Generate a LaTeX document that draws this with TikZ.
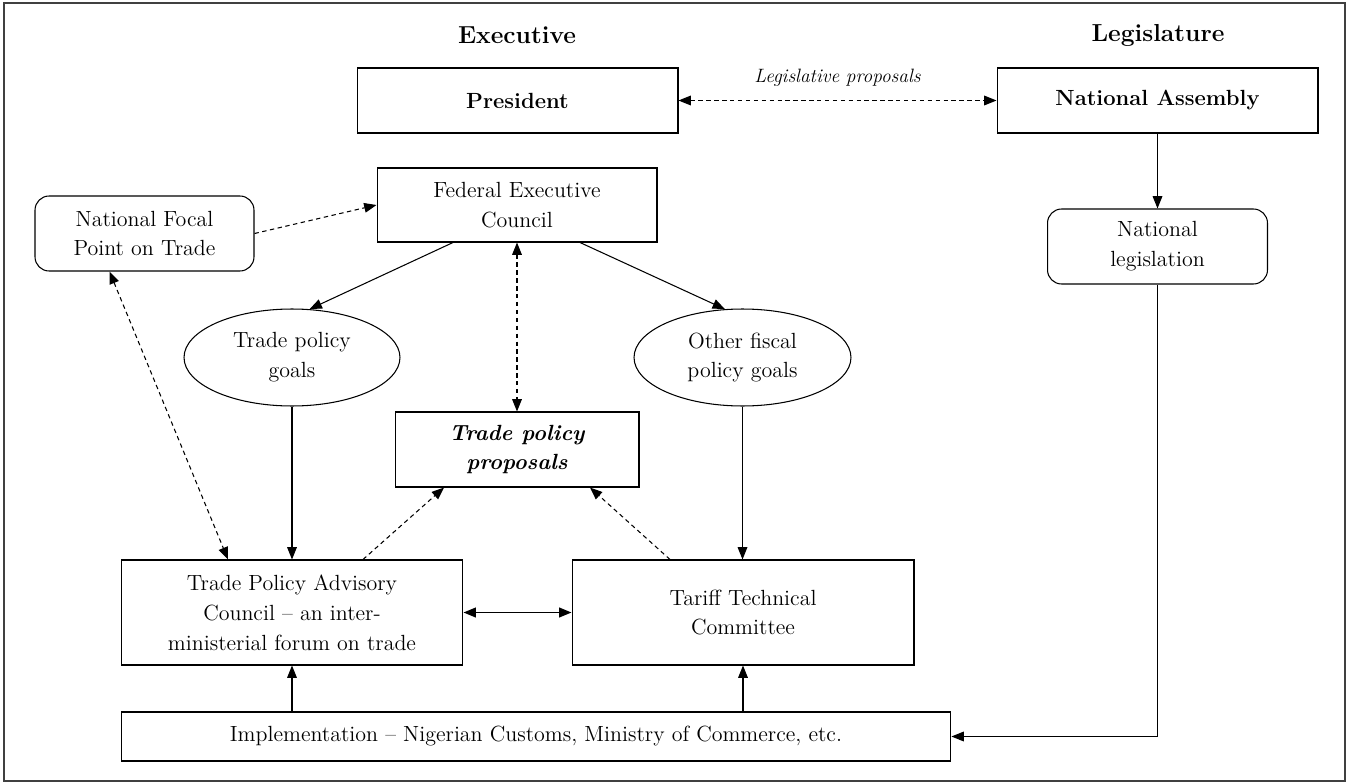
\documentclass[tikz,border=0pt]{standalone}
\usetikzlibrary{arrows.meta, positioning, calc, shapes.geometric}
\tikzset{
    blk/.style={draw, line width=0.6pt, align=center, inner sep=2pt,
        font=\fontsize{12.5}{17}\selectfont},
    rblk/.style={blk, rounded corners=8pt},
    goal/.style={blk, ellipse, inner sep=0pt},
    bld/.style={font=\fontsize{12.5}{17}\selectfont\bfseries},
    bldit/.style={font=\fontsize{12.5}{17}\selectfont\bfseries\itshape},
    hdr/.style={font=\fontsize{14}{17}\selectfont\bfseries},
    lbl/.style={font=\fontsize{11}{13}\selectfont\itshape},
    arr/.style={-{Triangle[length=7pt, width=5.5pt]}, line width=0.6pt},
    darr/.style={arr, dash pattern=on 2.5pt off 2pt},
    biarr/.style={{Triangle[length=7pt, width=5.5pt]}-{Triangle[length=7pt, width=5.5pt]},
        line width=0.6pt},
    dbiarr/.style={biarr, dash pattern=on 2.5pt off 2pt},
}

\begin{document}
\begin{tikzpicture}[x=0.02cm, y=-0.02cm]
    \useasboundingbox (0,0) rectangle (1349,784);
    \draw[line width=0.6pt, black!75] (4,3) rectangle (1345,781);

    % Titles
    \node[hdr] (exe) at (517,35) {Executive};
    \node[hdr] (leg) at (1158,35) {Legislature};

    % Top row
    \node[blk, bld, minimum width=6.42cm, minimum height=1.3cm] (pres) at (517.5,100.5) {President};
    \node[blk, bld, minimum width=6.42cm, minimum height=1.3cm] (na) at (1157.5,100.5) {National Assembly};
    \draw[dbiarr] (pres) -- node[lbl, above=4.5pt] {Legislative proposals} (na);

    % Executive side
    \node[blk, minimum width=5.6cm, minimum height=1.48cm] (fec) at (517,205) {Federal Executive\\Council};
    \node[rblk, minimum width=4.38cm, minimum height=1.5cm] (nfp) at (144.5,233.5) {National Focal\\Point on Trade};
    \node[goal, minimum width=4.32cm, minimum height=1.94cm] (tpg) at (292,357.5) {Trade policy\\goals};
    \node[goal, minimum width=4.34cm, minimum height=1.94cm] (ofg) at (742.5,357.5) {Other fiscal\\policy goals};
    \node[blk, bldit, minimum width=4.88cm, minimum height=1.5cm] (tpp) at (517,449.5) {Trade policy\\proposals};
    \node[blk, minimum width=6.84cm, minimum height=2.1cm] (tpac) at (292,612.5)
        {Trade Policy Advisory\\Council -- an inter-\\ministerial forum on trade};
    \node[blk, minimum width=6.84cm, minimum height=2.1cm] (ttc) at (743,612.5) {Tariff Technical\\Committee};
    \node[blk, minimum width=16.6cm, minimum height=0.98cm] (impl) at (536,736.5)
        {Implementation -- Nigerian Customs, Ministry of Commerce, etc.};

    % Legislature side
    \node[rblk, minimum width=4.4cm, minimum height=1.5cm] (nl) at (1157.5,246.5) {National\\legislation};

    \draw[arr] (na) -- (nl);
    \draw[arr] (nl) |- (impl);

    \draw[darr] (nfp.east) -- (fec.west);
    \draw[dbiarr] ($(nfp.south)+(-35,0)$) -- ($(tpac.north)+(-64,0)$);
    \draw[arr] ($(fec.south)+(-64,0)$) -- (tpg.70);
    \draw[arr] ($(fec.south)+(63,0)$) -- (ofg.110);
    \draw[dbiarr] (fec) -- (tpp);

    \draw[arr] (tpg) -- (tpac);
    \draw[arr] (ofg) -- (ttc.north -| ofg);
    \draw[darr] ($(tpac.north)+(71,0)$) -- ($(tpp.south)+(-73,0)$);
    \draw[darr] ($(ttc.north)+(-73,0)$) -- ($(tpp.south)+(73,0)$);
    \draw[biarr, line width=1pt] (tpac) -- (ttc);

    \draw[arr] (tpac.south |- impl.north) -- (tpac);
    \draw[arr] (ttc.south |- impl.north) -- (ttc);
\end{tikzpicture}
\end{document}
